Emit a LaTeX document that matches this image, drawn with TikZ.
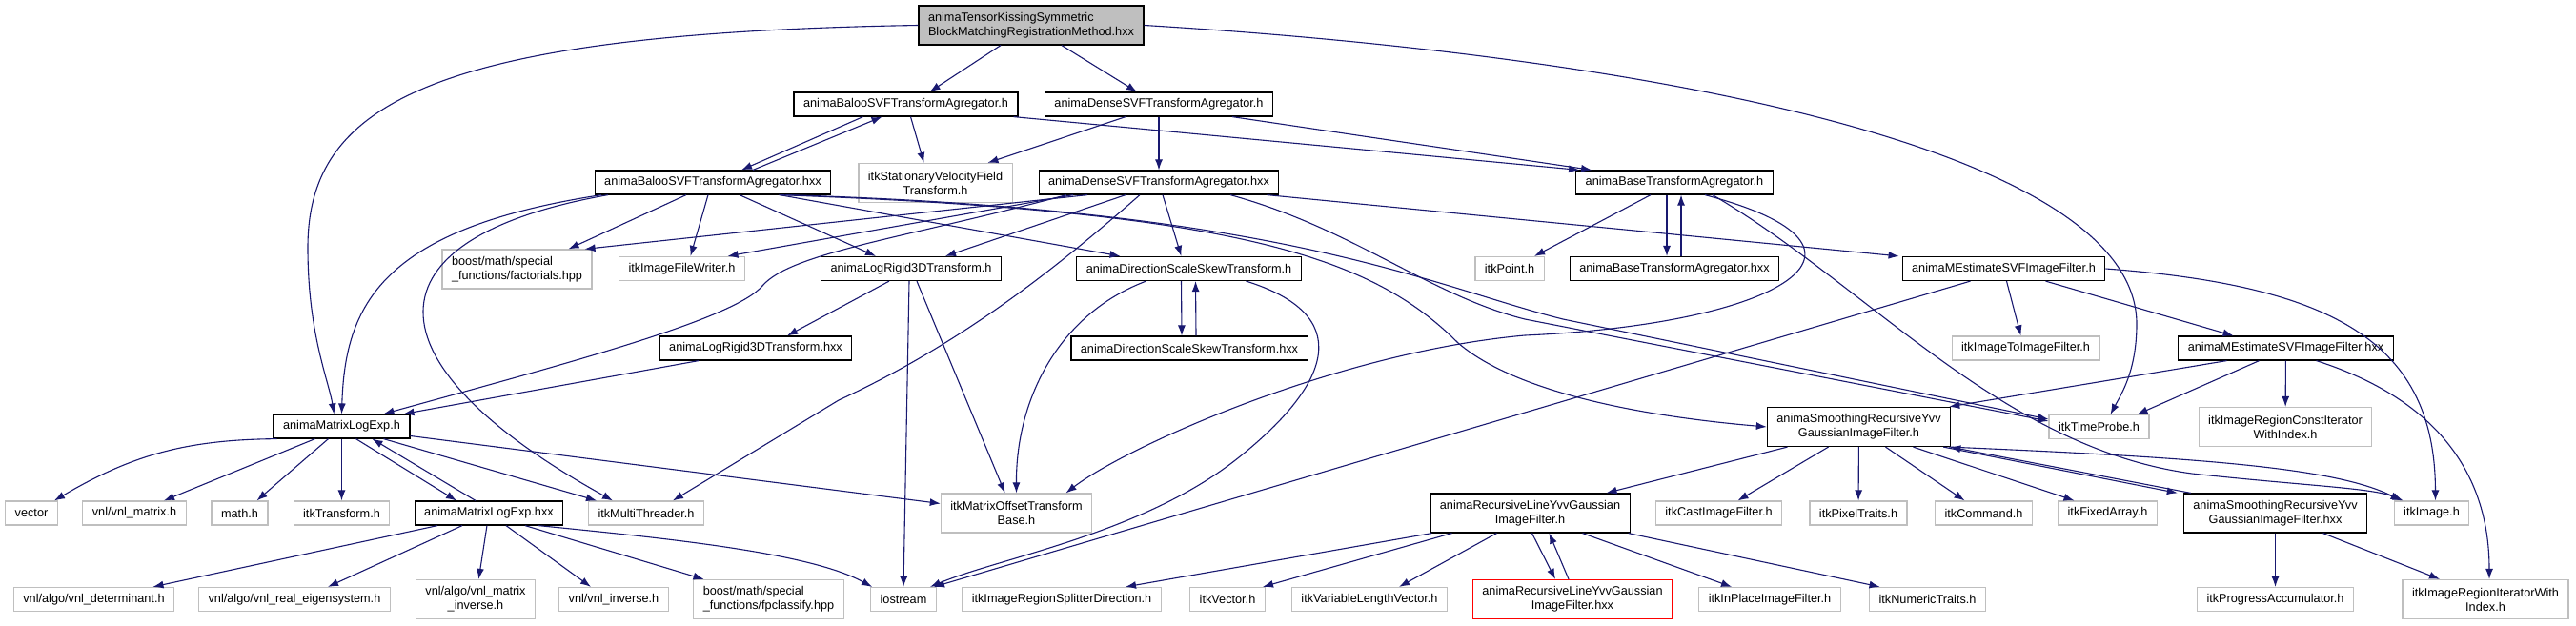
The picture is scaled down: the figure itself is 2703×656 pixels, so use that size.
\documentclass[tikz,border=0pt]{standalone}
\usepackage{fontspec}
\setmainfont{Liberation Sans}
\usetikzlibrary{arrows.meta}
\definecolor{edgeblue}{RGB}{25,25,112}
\definecolor{boxgrey}{RGB}{191,191,191}

\begin{document}
\begin{tikzpicture}[x=1pt, y=-1pt,
    file/.style={draw=black, line width=1.2pt, fill=white, inner xsep=10pt, inner ysep=3pt,
        minimum height=25pt, font=\fontsize{12.7}{15}\selectfont, align=center},
    ext/.style={file, draw=boxgrey},
    twoline/.style={minimum height=41pt},
    dep/.style={draw=edgeblue, line width=1.1pt, -{Latex[length=11pt,width=8pt]}}
]

    % 1. page
    \fill[white] (0,0) rectangle (2703,656);
    \useasboundingbox (0,0) rectangle (2703,656);

    % 2. files, row by row
    \node[file, twoline, fill=boxgrey, align=left] (tensor) at (1082,26.5) {animaTensorKissingSymmetric\\BlockMatchingRegistrationMethod.hxx};

    \node[file] (balooh) at (950.5,109.5) {animaBalooSVFTransformAgregator.h};
    \node[file] (denseh) at (1216,109.5) {animaDenseSVFTransformAgregator.h};

    \node[ext, twoline] (svf) at (981.5,192) {itkStationaryVelocityField\\Transform.h};
    \node[file] (baloohxx) at (748,191.5) {animaBalooSVFTransformAgregator.hxx};
    \node[file] (densehxx) at (1216,191.5) {animaDenseSVFTransformAgregator.hxx};
    \node[file] (baseh) at (1757,191.5) {animaBaseTransformAgregator.h};

    \node[ext, twoline, align=left] (factorials) at (542.5,282.5) {boost/math/special\\\_functions/factorials.hpp};
    \node[ext] (filewriter) at (715.5,282) {itkImageFileWriter.h};
    \node[file] (logrigidh) at (956,282) {animaLogRigid3DTransform.h};
    \node[file] (dssh) at (1247.5,282) {animaDirectionScaleSkewTransform.h};
    \node[ext] (point) at (1584,282) {itkPoint.h};
    \node[file] (basehxx) at (1757,282) {animaBaseTransformAgregator.hxx};
    \node[file] (mestimateh) at (2102.5,282) {animaMEstimateSVFImageFilter.h};

    \node[file] (logrigidhxx) at (793,365.5) {animaLogRigid3DTransform.hxx};
    \node[file] (dsshxx) at (1248,365.5) {animaDirectionScaleSkewTransform.hxx};
    \node[ext] (imagetoimage) at (2125.5,365.5) {itkImageToImageFilter.h};
    \node[file] (mestimatehxx) at (2398.5,365.5) {animaMEstimateSVFImageFilter.hxx};

    \node[file] (matrixlogh) at (358.5,447.5) {animaMatrixLogExp.h};
    \node[file, twoline] (smoothh) at (1950.5,448) {animaSmoothingRecursiveYvv\\GaussianImageFilter.h};
    \node[ext] (timeprobe) at (2202.5,448) {itkTimeProbe.h};
    \node[ext, twoline] (constiter) at (2398,448) {itkImageRegionConstIterator\\WithIndex.h};

    \node[ext] (vector) at (33,538.5) {vector};
    \node[ext] (vnlmatrix) at (141,538.5) {vnl/vnl\_matrix.h};
    \node[ext] (math) at (251.5,538.5) {math.h};
    \node[ext] (transform) at (358.5,538.5) {itkTransform.h};
    \node[file] (matrixloghxx) at (513,538.5) {animaMatrixLogExp.hxx};
    \node[ext] (multithreader) at (678,538.5) {itkMultiThreader.h};
    \node[ext, twoline] (offsetbase) at (1066.5,538.5) {itkMatrixOffsetTransform\\Base.h};
    \node[file, twoline] (lineyvvh) at (1605.5,538.5) {animaRecursiveLineYvvGaussian\\ImageFilter.h};
    \node[ext] (castfilter) at (1803.5,538.5) {itkCastImageFilter.h};
    \node[ext] (pixeltraits) at (1950,538.5) {itkPixelTraits.h};
    \node[ext] (command) at (2081.5,538.5) {itkCommand.h};
    \node[ext] (fixedarray) at (2211.5,538.5) {itkFixedArray.h};
    \node[file, twoline] (smoothhxx) at (2387.5,538.5) {animaSmoothingRecursiveYvv\\GaussianImageFilter.hxx};
    \node[ext] (image) at (2551.5,538.5) {itkImage.h};

    \node[ext] (determinant) at (98.5,629) {vnl/algo/vnl\_determinant.h};
    \node[ext] (eigensystem) at (309,629) {vnl/algo/vnl\_real\_eigensystem.h};
    \node[ext, twoline] (matrixinverse) at (499,629) {vnl/algo/vnl\_matrix\\\_inverse.h};
    \node[ext] (inverse) at (644,629) {vnl/vnl\_inverse.h};
    \node[ext, twoline, align=left] (fpclassify) at (806.5,629) {boost/math/special\\\_functions/fpclassify.hpp};
    \node[ext] (iostream) at (948,629) {iostream};
    \node[ext] (splitter) at (1114,629) {itkImageRegionSplitterDirection.h};
    \node[ext] (itkvector) at (1288,629) {itkVector.h};
    \node[ext] (varlength) at (1437,629) {itkVariableLengthVector.h};
    \node[file, twoline, draw=red] (lineyvvhxx) at (1650,629) {animaRecursiveLineYvvGaussian\\ImageFilter.hxx};
    \node[ext] (inplace) at (1857,629) {itkInPlaceImageFilter.h};
    \node[ext] (numeric) at (2022.5,629) {itkNumericTraits.h};
    \node[ext] (progress) at (2387.5,629) {itkProgressAccumulator.h};
    \node[ext, twoline] (iterwithindex) at (2608,629) {itkImageRegionIteratorWith\\Index.h};

    % 3. includes of the top file
    \draw[dep] ([xshift=-32]tensor.south) -- ([xshift=25]balooh.north);
    \draw[dep] ([xshift=32]tensor.south) -- ([xshift=-23]denseh.north);
    \draw[dep] (tensor.west) .. controls (450,35) and (323,110) .. (323,260) .. controls (323,350) and (345,400) .. ([xshift=-8]matrixlogh.north);
    \draw[dep] (tensor.east) .. controls (1750,60) and (2242,160) .. (2242,340) .. controls (2242,390) and (2225,415) .. ([xshift=12]timeprobe.north);

    % 4. agregator headers
    \draw[dep] ([xshift=-45]balooh.south) -- ([xshift=30]baloohxx.north);
    \draw[dep] ([xshift=42]baloohxx.north) -- ([xshift=-25]balooh.south);
    \draw[dep] ([xshift=5]balooh.south) -- ([xshift=-12]svf.north);
    \draw[dep] ([xshift=-5]balooh.south east) -- ([xshift=4]baseh.north west);
    \draw[dep] ([xshift=-35]denseh.south) -- ([xshift=55]svf.north);
    \draw[dep] (denseh) -- (densehxx);
    \draw[dep] ([xshift=77]denseh.south) -- ([xshift=17]baseh.north west);
    \draw[dep] ([xshift=-8]baseh.south) -- ([xshift=-8]basehxx.north);
    \draw[dep] ([xshift=7]basehxx.north) -- ([xshift=7]baseh.south);
    \draw[dep] ([xshift=-25]baseh.south) -- ([xshift=26]point.north);
    \draw[dep] ([xshift=32]baseh.south) .. controls (2000,260) and (1870,340) .. (1600,352) .. controls (1400,370) and (1180,470) .. ([xshift=52]offsetbase.north);
    \draw[dep] ([xshift=40]baseh.south) .. controls (1960,300) and (2100,470) .. (2300,497) .. controls (2420,510) and (2490,512) .. ([xshift=-30]image.north);

    % 5. baloo agregator
    \draw[dep] ([xshift=-28]baloohxx.south) -- ([xshift=54]factorials.north);
    \draw[dep] ([xshift=-5]baloohxx.south) -- ([xshift=9]filewriter.north);
    \draw[dep] ([xshift=28]baloohxx.south) -- ([xshift=-37]logrigidh.north);
    \draw[dep] ([xshift=70]baloohxx.south) -- ([xshift=-72]dssh.north);
    \draw[dep] ([xshift=-117]baloohxx.south) .. controls (400,240) and (362,320) .. (matrixlogh.north);
    \draw[dep] ([xshift=-110]baloohxx.south) .. controls (380,250) and (380,380) .. ([xshift=-35]multithreader.north);
    \draw[dep] ([xshift=-55]baloohxx.south east) .. controls (1300,222) and (1440,270) .. (1530,360) .. controls (1600,420) and (1760,440) .. (smoothh.west);
    \draw[dep] ([xshift=-48]baloohxx.south east) .. controls (1350,220) and (1500,300) .. (1640,335) -- ([yshift=8]timeprobe.west);

    % 6. dense agregator
    \draw[dep] ([xshift=-75]densehxx.south) -- ([xshift=-8]factorials.north east);
    \draw[dep] ([xshift=-90]densehxx.south) -- ([xshift=48]filewriter.north);
    \draw[dep] ([xshift=-97]densehxx.south) .. controls (950,250) and (830,265) .. (800,300) .. controls (770,335) and (600,380) .. ([xshift=44]matrixlogh.north);
    \draw[dep] ([xshift=-35]densehxx.south) -- ([xshift=36]logrigidh.north);
    \draw[dep] ([xshift=-20]densehxx.south) .. controls (1110,280) and (1010,360) .. (880,420) -- ([xshift=28]multithreader.north);
    \draw[dep] ([xshift=4]densehxx.south) -- ([xshift=-8]dssh.north);
    \draw[dep] ([xshift=-13]densehxx.south east) -- ([xshift=-3]mestimateh.north west);
    \draw[dep] ([xshift=75]densehxx.south) .. controls (1420,240) and (1500,310) .. (1600,335) -- ([yshift=6]timeprobe.west);

    % 7. transforms
    \draw[dep] ([xshift=-23]logrigidh.south) -- ([xshift=33]logrigidhxx.north);
    \draw[dep] ([xshift=-2]logrigidh.south) -- (iostream.north);
    \draw[dep] ([xshift=6]logrigidh.south) -- ([xshift=-12]offsetbase.north);
    \draw[dep] ([xshift=-60]logrigidhxx.south) -- ([xshift=65]matrixlogh.north);
    \draw[dep] ([xshift=-8]dssh.south) -- ([xshift=-8]dsshxx.north);
    \draw[dep] ([xshift=7]dsshxx.north) -- ([xshift=7]dssh.south);
    \draw[dep] ([xshift=-45]dssh.south) .. controls (1110,330) and (1066,420) .. (offsetbase.north);
    \draw[dep] ([xshift=60]dssh.south) .. controls (1420,330) and (1400,400) .. (1300,480) .. controls (1200,560) and (1050,585) .. ([xshift=28]iostream.north);

    % 8. matrix log exp
    \draw[dep] ([xshift=-68]matrixlogh.south) to[bend right=15] ([xshift=24]vector.north);
    \draw[dep] ([xshift=-28]matrixlogh.south) -- ([xshift=31]vnlmatrix.north);
    \draw[dep] ([xshift=-14]matrixlogh.south) -- ([xshift=18]math.north);
    \draw[dep] (matrixlogh) -- (transform);
    \draw[dep] ([xshift=15]matrixlogh.south) -- ([xshift=-34]matrixloghxx.north);
    \draw[dep] ([xshift=-14]matrixloghxx.north) -- ([xshift=32]matrixlogh.south);
    \draw[dep] ([xshift=44]matrixlogh.south) -- ([xshift=-52]multithreader.north);
    \draw[dep] ([yshift=-10]matrixlogh.east) -- ([yshift=10]offsetbase.west);
    \draw[dep] ([xshift=-54]matrixloghxx.south) -- ([xshift=62]determinant.north);
    \draw[dep] ([xshift=-28]matrixloghxx.south) -- ([xshift=35]eigensystem.north);
    \draw[dep] (matrixloghxx) -- (matrixinverse);
    \draw[dep] ([xshift=18]matrixloghxx.south) -- ([xshift=-24]inverse.north);
    \draw[dep] ([xshift=38]matrixloghxx.south) -- ([xshift=-68]fpclassify.north);
    \draw[dep] ([xshift=52]matrixloghxx.south) .. controls (700,565) and (850,580) .. ([xshift=2]iostream.north west);

    % 9. m-estimate filter
    \draw[dep] ([xshift=-35]mestimateh.south) -- ([xshift=32]iostream.north);
    \draw[dep] ([xshift=3]mestimateh.south) -- ([xshift=-5]imagetoimage.north);
    \draw[dep] ([xshift=44]mestimateh.south) -- ([xshift=-55]mestimatehxx.north);
    \draw[dep] (mestimateh.east) .. controls (2450,300) and (2555,360) .. ([xshift=4]image.north);
    \draw[dep] ([xshift=-62]mestimatehxx.south) -- ([xshift=-2]smoothh.north east);
    \draw[dep] ([xshift=-28]mestimatehxx.south) -- ([xshift=40]timeprobe.north);
    \draw[dep] (mestimatehxx) -- (constiter);
    \draw[dep] ([xshift=32]mestimatehxx.south) .. controls (2560,420) and (2612,500) .. ([xshift=4]iterwithindex.north);

    % 10. smoothing filters
    \draw[dep] ([xshift=-75]smoothh.south) -- ([xshift=80]lineyvvh.north);
    \draw[dep] ([xshift=-32]smoothh.south) -- ([xshift=20]castfilter.north);
    \draw[dep] (smoothh) -- (pixeltraits);
    \draw[dep] ([xshift=28]smoothh.south) -- ([xshift=-20]command.north);
    \draw[dep] ([xshift=57]smoothh.south) -- ([xshift=-35]fixedarray.north);
    \draw[dep] ([xshift=-8]smoothh.south east) -- ([xshift=-6]smoothhxx.north west);
    \draw[dep] ([xshift=8]smoothhxx.north west) -- ([xshift=-1]smoothh.south east);
    \draw[dep] ([xshift=-2]smoothh.south east) .. controls (2300,480) and (2450,490) .. ([xshift=-32]image.north);
    \draw[dep] (smoothhxx) -- (progress);
    \draw[dep] ([xshift=50]smoothhxx.south) -- ([xshift=-48]iterwithindex.north);

    % 11. line filter
    \draw[dep] ([xshift=2]lineyvvh.south west) -- ([xshift=67]splitter.north);
    \draw[dep] ([xshift=-82]lineyvvh.south) -- ([xshift=37]itkvector.north);
    \draw[dep] ([xshift=-35]lineyvvh.south) -- ([xshift=31]varlength.north);
    \draw[dep] ([xshift=2]lineyvvh.south) -- ([xshift=-18]lineyvvhxx.north);
    \draw[dep] ([xshift=-4]lineyvvhxx.north) -- ([xshift=20]lineyvvh.south);
    \draw[dep] ([xshift=55]lineyvvh.south) -- ([xshift=-40]inplace.north);
    \draw[dep] ([xshift=-2]lineyvvh.south east) -- ([xshift=-50]numeric.north);

\end{tikzpicture}
\end{document}
